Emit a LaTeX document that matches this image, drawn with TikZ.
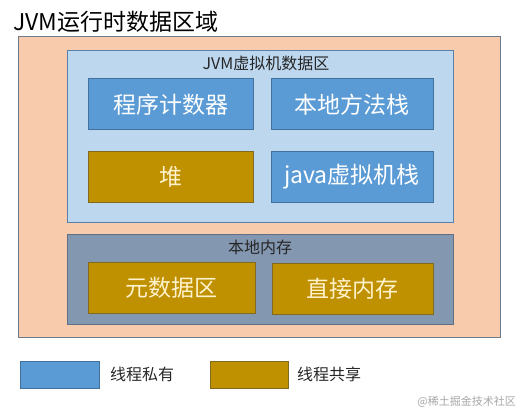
\documentclass[tikz,border=0pt]{standalone}
\usepackage{fontspec}
\setmainfont{Noto Sans CJK SC}
\usepackage{xcolor}
\usepackage{tikz}
\usetikzlibrary{positioning}
\definecolor{AreaPeach}{HTML}{F8CBAD}
\definecolor{AreaEdge}{HTML}{6E7B8B}
\definecolor{JVMLight}{HTML}{BDD7EE}
\definecolor{JVMEdge}{HTML}{5A7FA8}
\definecolor{PrivBlue}{HTML}{5B9BD5}
\definecolor{PrivEdge}{HTML}{41719C}
\definecolor{ShareGold}{HTML}{BF9000}
\definecolor{ShareEdge}{HTML}{7F6A20}
\definecolor{NativeGray}{HTML}{8497B0}
\definecolor{NativeEdge}{HTML}{5F6F85}
\definecolor{ShareText}{HTML}{FFF2CC}

\begin{document}
\begin{tikzpicture}[
    x=1pt,y=-1pt,
    area/.style={anchor=north west, inner sep=0pt, outer sep=0pt, line width=1pt},
    private/.style={area, draw=PrivEdge, fill=PrivBlue, text=white, font=\fontsize{23}{26}\selectfont},
    shared/.style={area, draw=ShareEdge, fill=ShareGold, text=ShareText, font=\fontsize{23}{26}\selectfont},
    caption/.style={font=\fontsize{16}{19}\selectfont, text=black!85},
    legendbox/.style={area, minimum width=79pt, minimum height=27pt}
  ]
    \useasboundingbox (0,0) rectangle (520,412);
    \node[anchor=west, inner sep=0pt, font=\fontsize{23}{27}\selectfont] (title) at (13,22) {JVM运行时数据区域};
    \node[area, draw=AreaEdge, fill=AreaPeach, minimum width=482pt, minimum height=300pt] (rtarea) at (18,37) {};
    \node[area, draw=JVMEdge, fill=JVMLight, minimum width=386pt, minimum height=171pt] (jvmarea) at (67,51) {};
    \node[area, draw=NativeEdge, fill=NativeGray, minimum width=386pt, minimum height=90pt] (nativemem) at (67,234) {};
    \node[caption] (jvmlab) at (266,63) {JVM虚拟机数据区};
    \node[caption] (nativelab) at (260,247) {本地内存};
    \foreach \x/\y/\w/\name/\kind/\lab in {88/79/165/pc/private/程序计数器,271/79/162/nstack/private/本地方法栈,88/151/165/heap/shared/堆,271/151/162/vmstack/private/java虚拟机栈,88/262/167/meta/shared/元数据区,272/263/161/direct/shared/直接内存} {
      \node[\kind, minimum width=\w pt, minimum height=51pt] (\name) at (\x,\y) {\lab};
    }
    \node[legendbox, draw=PrivEdge, fill=PrivBlue] (privkey) at (20,361) {};
    \node[caption, anchor=west, right=11pt of privkey, inner sep=0pt] (privlab) {线程私有};
    \node[legendbox, draw=ShareEdge, fill=ShareGold, minimum width=78pt] (sharekey) at (210,361) {};
    \node[caption, anchor=west, right=9pt of sharekey, inner sep=0pt] (sharelab) {线程共享};
    \node[anchor=east, inner sep=0pt, text=black!35, font=\fontsize{11}{13}\selectfont] (mark) at (516,402) {@稀土掘金技术社区};
  \end{tikzpicture}
\end{document}
